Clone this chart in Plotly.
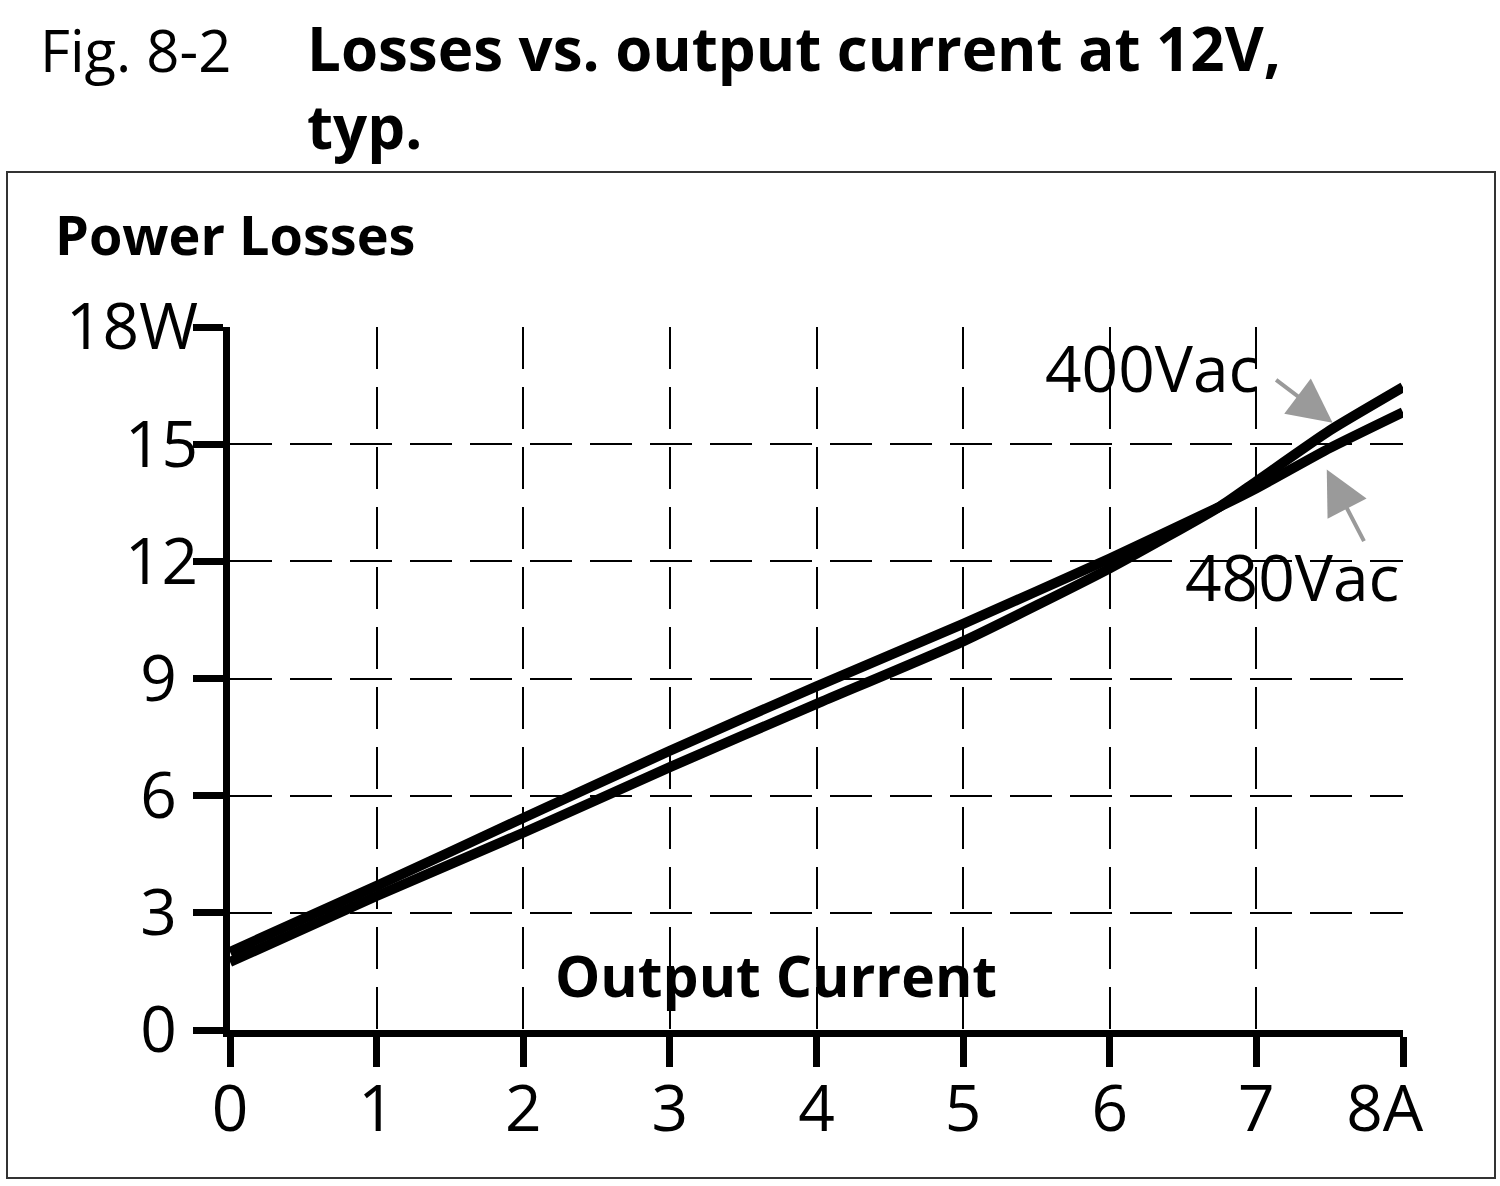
"""Fig. 8-2 Losses vs. output current at 12V, typ. (Plotly)"""
import plotly.graph_objects as go

# data
current = [0, 1, 2, 3, 4, 5, 6, 6.75, 7, 7.5, 8]
loss_400vac = [1.74, 3.43, 5.05, 6.73, 8.35, 9.95, 11.82, 13.4, 14.05, 15.35, 16.46]
loss_480vac = [2.0, 3.69, 5.43, 7.15, 8.8, 10.4, 12.07, 13.4, 13.87, 14.9, 15.82]

x_ticks = [0, 1, 2, 3, 4, 5, 6, 7, 8]
x_ticktext = ["0", "1", "2", "3", "4", "5", "6", "7", "8A\u2007"]
y_ticks = [0, 3, 6, 9, 12, 15, 18]
y_ticktext = ["0\u2009\u2009", "3\u2009\u2009", "6\u2009\u2009", "9\u2009\u2009", "12", "15", "18W"]

W, H = 1500, 1186
# plot area: x 230..1403, y 327..1030
L, T = 230, 327
R, B = W - 1403, H - 1030
PW, PH = W - L - R, H - T - B

FONT = "Open Sans, Noto Sans, sans-serif"
GRID = "42px,18px"


def px(xs, ys):
    """pixel position -> paper coordinates"""
    return (xs - L) / PW, (H - B - ys) / PH


fig = go.Figure()

for ys, name in ((loss_400vac, "400Vac"), (loss_480vac, "480Vac")):
    fig.add_trace(
        go.Scatter(
            x=current,
            y=ys,
            mode="lines",
            line=dict(color="black", width=10, shape="spline", smoothing=0.5),
            name=name,
            showlegend=False,
        )
    )

# frame around the chart
fx0, fy0 = px(7, 1178)
fx1, fy1 = px(1495, 172)
fig.add_shape(type="rect", xref="paper", yref="paper", x0=fx0, y0=fy0, x1=fx1, y1=fy1,
              line=dict(color="#333", width=2))

texts = [
    ("Fig. 8-2", 38, 49, 58, False),
    ("Losses vs. output current at 12V,<br>typ.", 305, 87, 60, True),
    ("Power Losses", 53, 234, 54, True),
    ("Output Current", 553, 975, 57, True),
    ("400Vac", 1043, 367, 64, False),
    ("480Vac", 1183, 576, 64, False),
]
for txt, xs_, ys_, size, bold in texts:
    ax_, ay_ = px(xs_, ys_)
    if bold:
        txt = "<br>".join(f"<b>{part}</b>" for part in txt.split("<br>"))
    fig.add_annotation(
        text=txt,
        xref="paper", yref="paper", x=ax_, y=ay_,
        xanchor="left", yanchor="middle", align="left", showarrow=False,
        font=dict(family=FONT, size=size, color="black"),
    )

# grey arrows pointing at the curves
for hx, hy, ax, ay in ((7.52, 15.55, -58, -44), (7.48, 14.35, 38, 73)):
    fig.add_annotation(
        x=hx, y=hy, xref="x", yref="y", text="", showarrow=True,
        ax=ax, ay=ay, arrowhead=2, arrowsize=2.2, arrowwidth=4,
        arrowcolor="#9a9a9a", standoff=0,
    )

axis_style = dict(
    ticks="outside",
    ticklen=30,
    tickwidth=7,
    tickcolor="black",
    tickfont=dict(size=64, family=FONT),
    showline=True,
    linecolor="black",
    linewidth=7,
    showgrid=True,
    gridcolor="black",
    gridwidth=2,
    griddash=GRID,
    zeroline=False,
)

fig.update_layout(
    width=W,
    height=H,
    margin=dict(l=L, r=R, t=T, b=B),
    paper_bgcolor="white",
    plot_bgcolor="white",
    font=dict(family=FONT, color="black"),
    showlegend=False,
    xaxis=dict(range=[0, 8], tickvals=x_ticks, ticktext=x_ticktext,
               ticklabelstandoff=-13, **axis_style),
    yaxis=dict(range=[0, 18], tickvals=y_ticks, ticktext=y_ticktext,
               ticklabelstandoff=-18, **axis_style),
)

# page body has a default 8px margin; drop it so the figure fills the window
fig.write_html(
    "out.html",
    config={"displayModeBar": False},
    post_script="document.body.style.margin='0';",
)
